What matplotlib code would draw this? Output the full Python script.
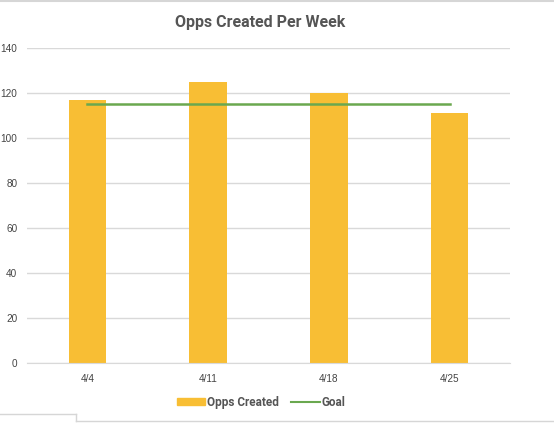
import matplotlib
matplotlib.use('Agg')
import matplotlib.pyplot as plt
from matplotlib.lines import Line2D

# data
weeks = ['4/4', '4/11', '4/18', '4/25']
opps_created = [117, 125, 120, 111]
goal = [115, 115, 115, 115]

bar_color = '#f8be34'
goal_color = '#6aa84f'
grid_color = '#d9d9d9'

plt.rcParams['font.family'] = ['Roboto', 'DejaVu Sans']

fig = plt.figure(figsize=(5.54, 4.23), dpi=100)
ax = fig.add_axes([27 / 554, 1 - 363 / 423, 483 / 554, 315 / 423])

x = list(range(len(weeks)))
ax.bar(x, opps_created, width=0.31, color=bar_color, zorder=2, label='Opps Created')
ax.plot(x, goal, color=goal_color, linewidth=1.8, zorder=3, label='Goal')

ax.set_xlim(-0.5, len(weeks) - 0.5)
ax.set_ylim(0, 140)
ax.set_yticks(range(0, 141, 20))
ax.set_xticks(x)
ax.set_xticklabels(weeks)

ax.grid(axis='y', color=grid_color, linewidth=1, zorder=0)
for s in ['top', 'right', 'left']:
    ax.spines[s].set_visible(False)
ax.spines['bottom'].set_color(grid_color)
ax.tick_params(axis='both', length=0, colors='#444444')
ax.tick_params(axis='y', pad=7)
ax.tick_params(axis='x', pad=8)
for lab in ax.get_yticklabels() + ax.get_xticklabels():
    lab.set_family('Liberation Sans')
    lab.set_fontsize(7.2)

fig.text(260 / 554, 1 - 22 / 423, 'Opps Created Per Week', ha='center', va='center',
         fontsize=11.5, fontweight='bold', color='#555555')

handles = [plt.Rectangle((0, 0), 1, 1, color=bar_color),
           Line2D([0], [0], color=goal_color, linewidth=1.5)]
leg = fig.legend(handles, ['Opps Created', 'Goal'], loc='center',
                 bbox_to_anchor=(261 / 554, 1 - 402 / 423), ncol=2, frameon=False,
                 handlelength=2.4, handleheight=0.6, handletextpad=0.12,
                 columnspacing=1.1, prop={'weight': 'bold', 'size': 8.5})
for t in leg.get_texts():
    t.set_color('#555555')

# screenshot border bits
border = '#d6d6d6'
fig.add_artist(Line2D([0, 1], [1 - 1 / 423, 1 - 1 / 423], color=border, linewidth=1.5))
fig.add_artist(Line2D([0, 76 / 554], [1 - 414 / 423] * 2, color=border, linewidth=1))
fig.add_artist(Line2D([76 / 554] * 2, [1 - 414 / 423, 1 - 421 / 423], color=border, linewidth=1))
fig.add_artist(Line2D([76 / 554, 1], [1 - 421 / 423] * 2, color=border, linewidth=1))

fig.savefig('out.png', dpi=100)
